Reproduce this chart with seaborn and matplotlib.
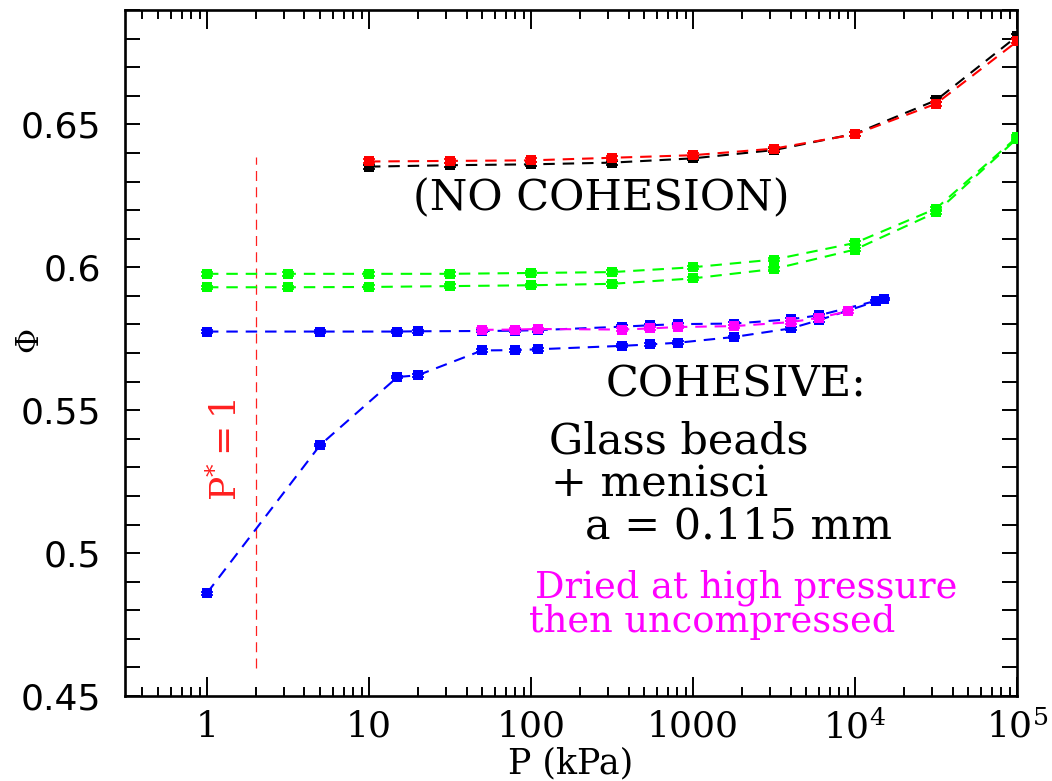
import numpy as np
import pandas as pd
import matplotlib
matplotlib.use("Agg")
import matplotlib.pyplot as plt
import seaborn as sns
from matplotlib.ticker import FixedLocator, LogLocator, MultipleLocator, NullFormatter

# ---- data: packing fraction Phi versus applied pressure P (kPa) ----
p_dry = [10, 31.6, 100, 316, 1000, 3162, 10000, 31623, 100000]
phi_dry_black = [0.6352, 0.6357, 0.6360, 0.6366, 0.6381, 0.6410, 0.6467, 0.6584, 0.6808]
phi_dry_red = [0.6370, 0.6372, 0.6374, 0.6383, 0.6392, 0.6415, 0.6465, 0.6572, 0.6790]

p_green = [1, 3.16, 10, 31.6, 100, 316, 1000, 3162, 10000, 31623, 100000]
phi_green_upper = [0.5977, 0.5977, 0.5977, 0.5977, 0.5980, 0.5983, 0.6000, 0.6027, 0.6085, 0.6205, 0.6455]
phi_green_lower = [0.5930, 0.5930, 0.5931, 0.5934, 0.5937, 0.5942, 0.5961, 0.5994, 0.6062, 0.6192, 0.6450]

p_wet_upper = [1, 5, 15, 20, 50, 80, 110, 363, 543, 811, 1791, 4009, 5998, 15000]
phi_wet_upper = [0.5775, 0.5775, 0.5775, 0.5776, 0.5777, 0.5778, 0.5780, 0.5792, 0.5797, 0.5801,
                 0.5803, 0.5818, 0.5832, 0.5889]
p_wet_lower = [1, 5, 15, 20, 50, 80, 110, 363, 543, 811, 1791, 4009, 5998, 13500]
phi_wet_lower = [0.4860, 0.5378, 0.5616, 0.5622, 0.5709, 0.5710, 0.5713, 0.5725, 0.5730, 0.5736,
                 0.5756, 0.5786, 0.5815, 0.5881]

p_dried = [50, 80, 110, 363, 543, 811, 1791, 4009, 5998, 9000]
phi_dried = [0.5781, 0.5782, 0.5784, 0.5782, 0.5786, 0.5791, 0.5794, 0.5808, 0.5823, 0.5846]

# uncertainty on Phi for each run
err_dry = 0.0007
err_green = 0.0006
err_wet = 0.0005

# reduced pressure P* = 1 marker
p_star = 2.0
p_star_span = (0.4598, 0.6385)

x_ticks = [1, 10, 100, 1000, 1e4, 1e5]
x_tick_labels = ["1", "10", "100", "1000", "$10^4$", "$10^5$"]
y_ticks = [0.45, 0.5, 0.55, 0.6, 0.65]
y_tick_labels = ["0.45", "0.5", "0.55", "0.6", "0.65"]

series = [
    ("dry_black", p_dry, phi_dry_black, err_dry, "#000000", 3),
    ("dry_red", p_dry, phi_dry_red, err_dry, "#ff0000", 4),
    ("green_upper", p_green, phi_green_upper, err_green, "#00ff00", 4),
    ("green_lower", p_green, phi_green_lower, err_green, "#00ff00", 4),
    ("wet_upper", p_wet_upper, phi_wet_upper, err_wet, "#0000ff", 4),
    ("wet_lower", p_wet_lower, phi_wet_lower, err_wet, "#0000ff", 4),
    ("dried", p_dried, phi_dried, err_wet, "#ff00ff", 5),
]

df = pd.concat(
    [pd.DataFrame({"run": name, "P": p, "phi": phi}) for name, p, phi, *_ in series],
    ignore_index=True,
)

sns.set_style("ticks")
plt.rcParams["mathtext.fontset"] = "dejavuserif"
plt.rcParams["font.family"] = ["DejaVu Serif", "DejaVu Sans"]
plt.rcParams["text.color"] = "black"
plt.rcParams["axes.labelcolor"] = "black"

fig = plt.figure(figsize=(10.52, 7.81), dpi=100)
ax = fig.add_axes([125 / 1052, 85 / 781, 892 / 1052, 686 / 781])
ax.set_xscale("log")

for name, p, phi, err, color, z in series:
    sub = df[df["run"] == name]
    sns.lineplot(data=sub, x="P", y="phi", ax=ax, color=color, estimator=None, sort=False,
                 linestyle=(0, (5.5, 3.8)), linewidth=1.5, marker="s", markersize=6.8,
                 markeredgewidth=0, zorder=z, legend=False)
    ax.errorbar(sub["P"], sub["phi"], yerr=err, fmt="none", ecolor=color,
                elinewidth=1.3, capsize=4, capthick=1.3, zorder=z)

ax.vlines(p_star, *p_star_span, colors="#ff2020", linewidth=0.9,
          linestyles=[(0, (8, 5))], zorder=2)

ax.set_xlim(0.312, 1e5)
ax.set_ylim(0.45, 0.69)

ax.xaxis.set_major_locator(FixedLocator(x_ticks))
ax.xaxis.set_minor_locator(LogLocator(base=10, subs=np.arange(2, 10)))
ax.xaxis.set_minor_formatter(NullFormatter())
ax.set_xticklabels(x_tick_labels, fontfamily="DejaVu Serif", fontsize=26)
ax.yaxis.set_major_locator(FixedLocator(y_ticks))
ax.yaxis.set_minor_locator(MultipleLocator(0.01))
ax.set_yticklabels(y_tick_labels, fontfamily="DejaVu Sans", fontsize=26)

ax.tick_params(axis="both", which="both", direction="in", top=True, right=True,
               colors="black", width=1.4)
ax.tick_params(axis="x", which="major", length=14, pad=10)
ax.tick_params(axis="x", which="minor", length=6.5)
ax.tick_params(axis="y", which="major", length=11, pad=17)
ax.tick_params(axis="y", which="minor", length=11)
for s in ax.spines.values():
    s.set_linewidth(1.9)
    s.set_color("black")

ax.set_xlabel("P (kPa)", fontfamily="DejaVu Serif", fontsize=25, color="black")
ax.xaxis.set_label_coords(0.5, -0.074)
ax.set_ylabel("Φ", fontfamily="DejaVu Serif", fontsize=22, color="black")
ax.yaxis.set_label_coords(-0.09, 0.52)

ax.text(1.31, 0.536, r"$\mathrm{P}^{*}=1$", color="#ff2020", fontsize=26, rotation=90,
        ha="center", va="center")

big = dict(fontsize=31, fontfamily="DejaVu Serif", color="black", transform=ax.transAxes,
           va="baseline", ha="center")
ax.text(0.5336, 0.7085, "(NO COHESION)", **big)
ax.text(0.6855, 0.4359, "COHESIVE:", **big)
ax.text(0.6211, 0.3542, "Glass beads", **big)
ax.text(0.5998, 0.2901, "+ menisci", **big)
ax.text(0.6878, 0.2303, "a = 0.115 mm", **big)

small = dict(fontsize=26.5, fontfamily="DejaVu Serif", color="#ff00ff",
             transform=ax.transAxes, va="baseline", ha="center")
ax.text(0.6962, 0.1443, "Dried at high pressure", **small)
ax.text(0.6586, 0.0933, "then uncompressed", **small)

fig.savefig("out.png", dpi=100)
